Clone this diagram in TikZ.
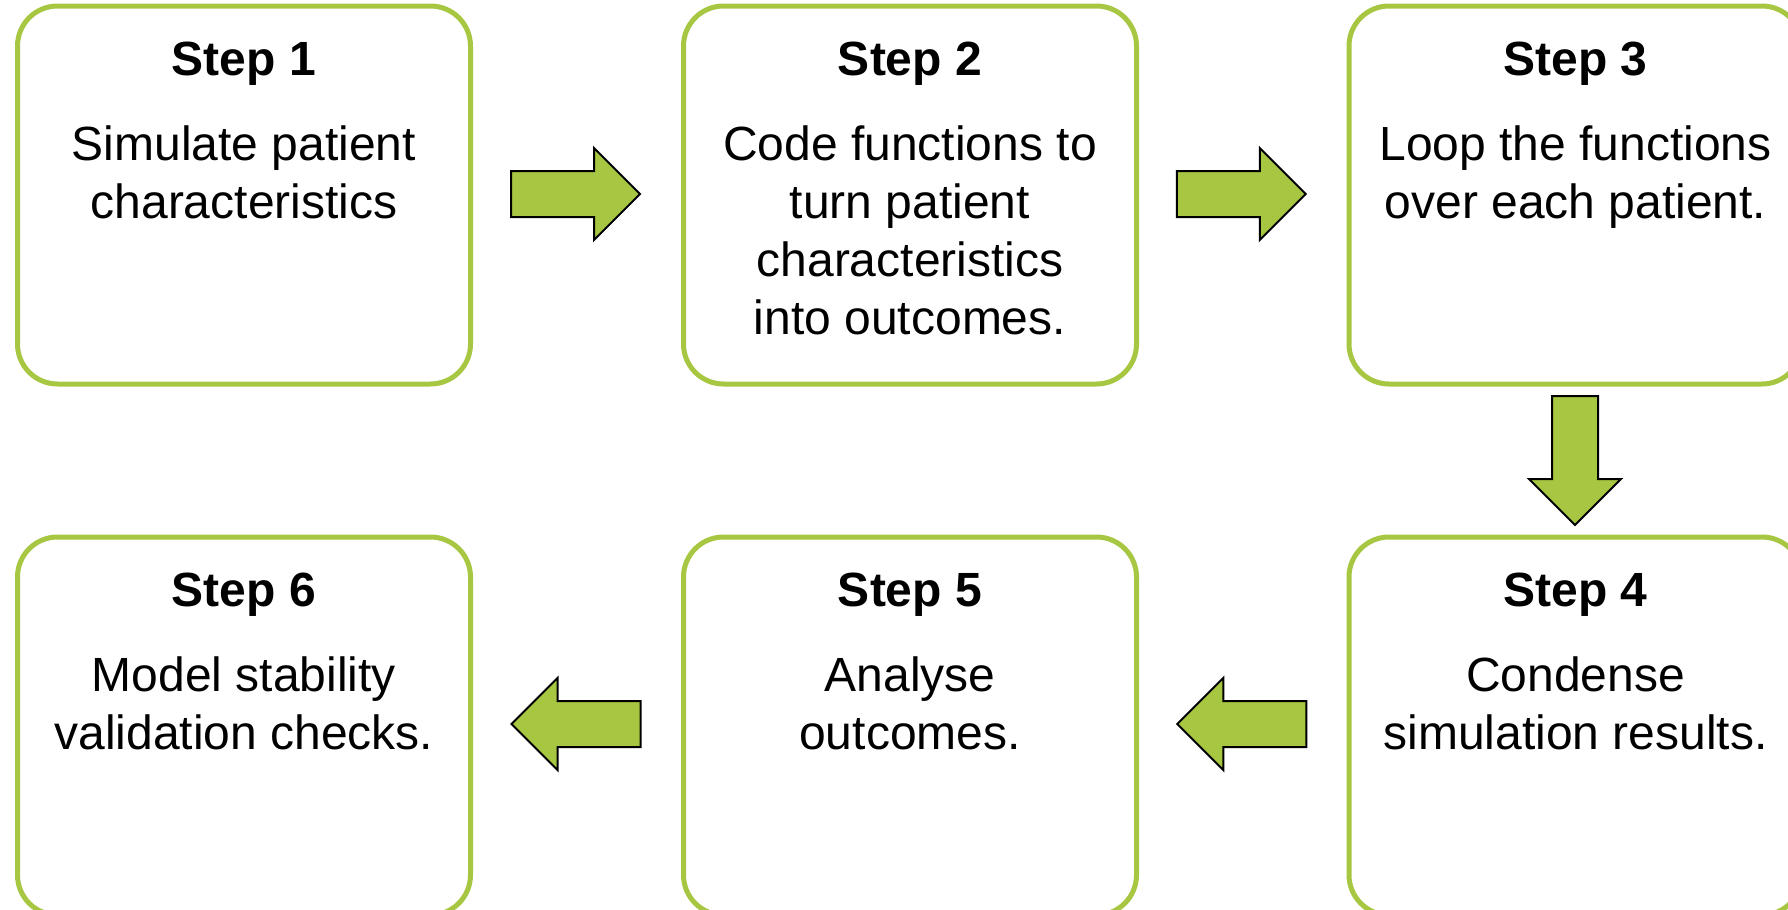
\documentclass[tikz,border=0pt]{standalone}
\usepackage{fontspec}
\setmainfont{Liberation Sans}
\usetikzlibrary{calc}
\definecolor{stepgreen}{RGB}{167,199,66}
\begin{document}
\begin{tikzpicture}[x=1pt,y=1pt,
  stepbox/.style={draw=stepgreen, line width=5pt, rounded corners=40pt,
    minimum width=453pt, minimum height=378pt, inner sep=0pt, outer sep=0pt, fill=white},
  steptitle/.style={font=\fontsize{48}{58}\selectfont\bfseries, anchor=base, inner sep=0pt},
  steptext/.style={font=\fontsize{48}{58}\selectfont, align=center, anchor=north, inner sep=0pt},
  blockarrow/.style={fill=stepgreen, draw=black, line width=2pt, line join=miter},
  blockarrowpic/.pic={\draw[blockarrow] (-64.5,-23) -- (18.5,-23) -- (18.5,-46) -- (64.5,0)
      -- (18.5,46) -- (18.5,23) -- (-64.5,23) -- cycle;}]
\useasboundingbox (0,0) rectangle (1788,-910);
% boxes
\node[stepbox] (s1) at (244,-195) {};
\node[stepbox] (s2) at (910,-195) {};
\node[stepbox] (s3) at (1575.5,-195) {};
\node[stepbox] (s4) at (1575.5,-726) {};
\node[stepbox] (s5) at (910,-726) {};
\node[stepbox] (s6) at (244,-726) {};
% titles
\node[steptitle] (t1) at ([yshift=-69pt]s1.north) {Step 1};
\node[steptitle] (t2) at ([yshift=-69pt]s2.north) {Step 2};
\node[steptitle] (t3) at ([yshift=-69pt]s3.north) {Step 3};
\node[steptitle] (t4) at ([yshift=-69pt]s4.north) {Step 4};
\node[steptitle] (t5) at ([yshift=-69pt]s5.north) {Step 5};
\node[steptitle] (t6) at ([yshift=-69pt]s6.north) {Step 6};
% texts
\node[steptext] (b1) at ([yshift=-114pt]s1.north) {\rule{0pt}{40pt}Simulate patient\\characteristics};
\node[steptext] (b2) at ([yshift=-114pt]s2.north) {\rule{0pt}{40pt}Code functions to\\turn patient\\characteristics\\into outcomes.};
\node[steptext] (b3) at ([yshift=-114pt]s3.north) {\rule{0pt}{40pt}Loop the functions\\over each patient.};
\node[steptext] (b4) at ([yshift=-114pt]s4.north) {\rule{0pt}{40pt}Condense\\simulation results.};
\node[steptext] (b5) at ([yshift=-114pt]s5.north) {\rule{0pt}{40pt}Analyse\\outcomes.};
\node[steptext] (b6) at ([yshift=-114pt]s6.north) {\rule{0pt}{40pt}Model stability\\validation checks.};
% arrows
\pic (a12) at ($(s1.east)!0.5!(s2.west)+(-1.5,1)$) {blockarrowpic};
\pic (a23) at ($(s2.east)!0.5!(s3.west)+(-1.5,1)$) {blockarrowpic};
\pic[rotate=-90] (a34) at ($(s3.south)!0.5!(s4.north)+(-0.5,0)$) {blockarrowpic};
\pic[rotate=180] (a45) at ($(s4.west)!0.5!(s5.east)+(-1,2)$) {blockarrowpic};
\pic[rotate=180] (a56) at ($(s5.west)!0.5!(s6.east)+(-1,2)$) {blockarrowpic};
\end{tikzpicture}
\end{document}
